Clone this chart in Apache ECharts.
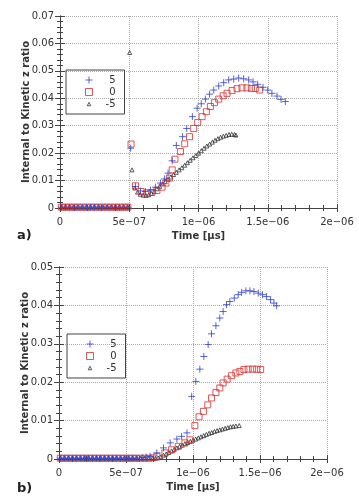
<!DOCTYPE html>
<html>
<head>
<meta charset="utf-8">
<script src="https://cdn.jsdelivr.net/npm/echarts@6/dist/echarts.min.js"></script>
<style>
  html, body { margin: 0; padding: 0; background: #fff; }
  #main { width: 359px; height: 497px; }
</style>
</head>
<body>
<div id="main"></div>
<script>
// time in units of 1e-6 (axis labels show the raw seconds notation)
const seriesNames = ['5', '0', '-5'];
const xTickLabels = ['0', '5e\u221207', '1e\u221206', '1.5e\u221206', '2e\u221206'];
const yTickLabelsA = ['0', '0.01', '0.02', '0.03', '0.04', '0.05', '0.06', '0.07'];
const yTickLabelsB = ['0', '0.01', '0.02', '0.03', '0.04', '0.05'];

// panel a)
const a5 = [
  [0.01, 0.0003], [0.04, 0.0003], [0.07, 0.0003], [0.10, 0.0003], [0.13, 0.0003], [0.16, 0.0003],
  [0.19, 0.0003], [0.22, 0.0003], [0.25, 0.0003], [0.28, 0.0003], [0.31, 0.0003], [0.34, 0.0003],
  [0.37, 0.0003], [0.40, 0.0003], [0.43, 0.0003], [0.46, 0.0003], [0.49, 0.0003],
  [0.51, 0.0218], [0.545, 0.0078], [0.581, 0.0062], [0.617, 0.0060], [0.653, 0.0065], [0.689, 0.0076],
  [0.725, 0.0091], [0.755, 0.0106], [0.78, 0.0127], [0.81, 0.0172], [0.84, 0.0228], [0.885, 0.0260],
  [0.915, 0.0290], [0.956, 0.0333], [0.99, 0.0364], [1.02, 0.0380], [1.05, 0.0397], [1.08, 0.0415],
  [1.11, 0.0430], [1.146, 0.0445], [1.182, 0.0457], [1.218, 0.0467], [1.254, 0.0470], [1.29, 0.0474],
  [1.326, 0.0471], [1.362, 0.0467], [1.394, 0.0460], [1.427, 0.0451], [1.466, 0.0440], [1.50, 0.0430],
  [1.53, 0.0418], [1.567, 0.0408], [1.596, 0.0396], [1.627, 0.0388]
];
const a0 = [
  [0.01, 0.0003], [0.04, 0.0003], [0.07, 0.0003], [0.10, 0.0003], [0.13, 0.0003], [0.16, 0.0003],
  [0.19, 0.0003], [0.22, 0.0003], [0.25, 0.0003], [0.28, 0.0003], [0.31, 0.0003], [0.34, 0.0003],
  [0.37, 0.0003], [0.40, 0.0003], [0.43, 0.0003], [0.46, 0.0003], [0.49, 0.0003],
  [0.513, 0.0233], [0.545, 0.0081], [0.585, 0.0060], [0.628, 0.0055], [0.664, 0.0057], [0.70, 0.0064],
  [0.737, 0.0076], [0.765, 0.0091], [0.79, 0.0109], [0.81, 0.0139], [0.83, 0.0178], [0.87, 0.0206],
  [0.90, 0.0234], [0.935, 0.0260], [0.965, 0.0290], [0.994, 0.0312], [1.026, 0.0333], [1.057, 0.0351],
  [1.086, 0.0370], [1.115, 0.0384], [1.146, 0.0397], [1.178, 0.0409], [1.206, 0.0418], [1.242, 0.0428],
  [1.278, 0.0435], [1.314, 0.0438], [1.35, 0.0438], [1.382, 0.0436], [1.41, 0.0436], [1.442, 0.0430]
];
const aM5 = [
  [0.01, 0.0003], [0.04, 0.0003], [0.07, 0.0003], [0.10, 0.0003], [0.13, 0.0003], [0.16, 0.0003],
  [0.19, 0.0003], [0.22, 0.0003], [0.25, 0.0003], [0.28, 0.0003], [0.31, 0.0003], [0.34, 0.0003],
  [0.37, 0.0003], [0.40, 0.0003], [0.43, 0.0003], [0.46, 0.0003], [0.49, 0.0003],
  [0.503, 0.0567], [0.52, 0.0139], [0.54, 0.0073], [0.56, 0.0058], [0.58, 0.0050], [0.60, 0.0047],
  [0.62, 0.0046], [0.64, 0.0048], [0.66, 0.0053], [0.68, 0.0060], [0.70, 0.0070], [0.72, 0.0079],
  [0.74, 0.0088], [0.76, 0.0096], [0.78, 0.0105], [0.80, 0.0113], [0.82, 0.0122], [0.84, 0.0130],
  [0.86, 0.0139], [0.88, 0.0147], [0.90, 0.0156], [0.92, 0.0165], [0.94, 0.0174], [0.96, 0.0183],
  [0.98, 0.0191], [1.00, 0.0200], [1.02, 0.0209], [1.04, 0.0218], [1.06, 0.0226], [1.08, 0.0233],
  [1.10, 0.0240], [1.12, 0.0247], [1.14, 0.0253], [1.16, 0.0258], [1.18, 0.0262], [1.20, 0.0265],
  [1.22, 0.0268], [1.24, 0.0269], [1.26, 0.0268], [1.27, 0.0266]
];

// panel b)
const b5 = [
  [0.01, 0.0002], [0.04, 0.0002], [0.07, 0.0002], [0.10, 0.0002], [0.13, 0.0002], [0.16, 0.0002],
  [0.19, 0.0002], [0.22, 0.0002], [0.25, 0.0002], [0.28, 0.0002], [0.31, 0.0002], [0.34, 0.0002],
  [0.37, 0.0002], [0.40, 0.0002], [0.43, 0.0002], [0.46, 0.0002], [0.49, 0.0002], [0.52, 0.0002],
  [0.55, 0.0002], [0.58, 0.0002], [0.62, 0.0003], [0.65, 0.0005], [0.68, 0.0007], [0.73, 0.0016],
  [0.78, 0.0029], [0.83, 0.0042], [0.88, 0.0052], [0.915, 0.0059], [0.955, 0.0068], [0.99, 0.0163],
  [1.021, 0.0202], [1.051, 0.0234], [1.081, 0.0267], [1.113, 0.0298], [1.138, 0.0326], [1.171, 0.0347],
  [1.20, 0.0367], [1.225, 0.0384], [1.25, 0.0402], [1.275, 0.0410], [1.308, 0.0419], [1.337, 0.0428],
  [1.363, 0.0434], [1.395, 0.0438], [1.425, 0.0438], [1.455, 0.0436], [1.487, 0.0432], [1.519, 0.0428],
  [1.549, 0.0423], [1.579, 0.0415], [1.604, 0.0406], [1.624, 0.0399]
];
const b0 = [
  [0.01, 0.0002], [0.04, 0.0002], [0.07, 0.0002], [0.10, 0.0002], [0.13, 0.0002], [0.16, 0.0002],
  [0.19, 0.0002], [0.22, 0.0002], [0.25, 0.0002], [0.28, 0.0002], [0.31, 0.0002], [0.34, 0.0002],
  [0.37, 0.0002], [0.40, 0.0002], [0.43, 0.0002], [0.46, 0.0002], [0.49, 0.0002], [0.52, 0.0002],
  [0.55, 0.0002], [0.58, 0.0002], [0.61, 0.0002], [0.64, 0.0002], [0.67, 0.0002], [0.70, 0.0003],
  [0.73, 0.0007], [0.79, 0.0016], [0.84, 0.0024], [0.89, 0.0033], [0.94, 0.0042], [0.977, 0.0050],
  [1.014, 0.0087], [1.045, 0.0110], [1.078, 0.0124], [1.11, 0.0141], [1.138, 0.0159], [1.171, 0.0173],
  [1.20, 0.0185], [1.225, 0.0198], [1.255, 0.0208], [1.288, 0.0217], [1.32, 0.0224], [1.35, 0.0228],
  [1.38, 0.0233], [1.412, 0.0234], [1.445, 0.0234], [1.475, 0.0234], [1.505, 0.0233]
];
const bM5 = [
  [0.01, 0.0002], [0.04, 0.0002], [0.07, 0.0002], [0.10, 0.0002], [0.13, 0.0002], [0.16, 0.0002],
  [0.19, 0.0002], [0.22, 0.0002], [0.25, 0.0002], [0.28, 0.0002], [0.31, 0.0002], [0.34, 0.0002],
  [0.37, 0.0002], [0.40, 0.0002], [0.43, 0.0002], [0.46, 0.0002], [0.49, 0.0002], [0.52, 0.0002],
  [0.55, 0.0002], [0.58, 0.0002], [0.61, 0.0002], [0.64, 0.0002], [0.67, 0.0002], [0.70, 0.0002],
  [0.72, 0.0002], [0.74, 0.0003], [0.76, 0.0006], [0.78, 0.0010], [0.80, 0.0013], [0.82, 0.0017],
  [0.84, 0.0021], [0.86, 0.0025], [0.88, 0.0029], [0.90, 0.0033], [0.92, 0.0036], [0.94, 0.0040],
  [0.96, 0.0043], [0.98, 0.0046], [1.00, 0.0049], [1.02, 0.0052], [1.04, 0.0055], [1.06, 0.0058],
  [1.08, 0.0061], [1.10, 0.0064], [1.12, 0.0067], [1.14, 0.0069], [1.16, 0.0072], [1.18, 0.0074],
  [1.20, 0.0076], [1.22, 0.0078], [1.24, 0.0080], [1.26, 0.0082], [1.28, 0.0084], [1.30, 0.0085],
  [1.32, 0.0086], [1.345, 0.0087]
];

const FONT = 'DejaVu Sans';
const AXIS_COLOR = '#444';
const LABEL_COLOR = '#333';

var myChart = echarts.init(document.getElementById('main'), null, { renderer: 'canvas' });

function xAxisFor(gridIndex, onTop) {
  return {
    type: 'value',
    gridIndex: gridIndex,
    position: onTop ? 'top' : 'bottom',
    min: 0,
    max: 2,
    interval: 0.5,
    name: onTop ? '' : 'Time [\u00b5s]',
    nameLocation: 'middle',
    nameGap: 23,
    nameMoveOverlap: false,
    nameTextStyle: { fontFamily: FONT, fontWeight: 'bold', fontSize: 10, color: LABEL_COLOR },
    axisLine: { show: true, lineStyle: { color: AXIS_COLOR, width: 1 } },
    axisTick: { show: true, inside: false, length: 4, lineStyle: { color: AXIS_COLOR } },
    minorTick: { show: true, splitNumber: 5, length: 3, lineStyle: { color: AXIS_COLOR } },
    axisLabel: {
      show: !onTop,
      margin: 9,
      fontFamily: FONT,
      fontSize: 10,
      color: LABEL_COLOR,
      formatter: function (v) { return xTickLabels[Math.round(v / 0.5)]; }
    },
    splitLine: { show: !onTop, lineStyle: { color: '#aaa', type: 'dotted', width: 1 } },
    minorSplitLine: { show: false }
  };
}

function yAxisFor(gridIndex, onRight, maxVal, labels) {
  return {
    type: 'value',
    gridIndex: gridIndex,
    position: onRight ? 'right' : 'left',
    min: 0,
    max: maxVal,
    interval: 0.01,
    name: onRight ? '' : 'Internal to Kinetic z ratio',
    nameLocation: 'middle',
    nameGap: 29,
    nameMoveOverlap: false,
    nameTextStyle: { fontFamily: FONT, fontWeight: 'bold', fontSize: 10, color: LABEL_COLOR },
    axisLine: { show: true, lineStyle: { color: AXIS_COLOR, width: 1 } },
    axisTick: { show: true, inside: true, length: 5, lineStyle: { color: AXIS_COLOR } },
    minorTick: { show: true, splitNumber: 5, length: 3, lineStyle: { color: AXIS_COLOR } },
    axisLabel: {
      show: !onRight,
      margin: 6,
      fontFamily: FONT,
      fontSize: 10,
      color: LABEL_COLOR,
      formatter: function (v) { return labels[Math.round(v / 0.01)]; }
    },
    splitLine: { show: !onRight, lineStyle: { color: '#aaa', type: 'dotted', width: 1 } }
  };
}

// legend icons: the triangle path is padded so it draws smaller than the box
const legendIcons = ['path://M0,5L10,5M5,0L5,10', 'rect', 'path://M0,0M10,10M2.5,7.5L5,2.5L7.5,7.5Z'];
const legendColors = ['#3040cc', '#d83030', '#333'];

function legendFor(left, top) {
  return {
    orient: 'vertical',
    left: left,
    top: top,
    data: seriesNames.map(function (n, i) {
      return { name: n, icon: legendIcons[i],
        itemStyle: { color: 'none', borderColor: legendColors[i], borderWidth: 1 } };
    }),
    padding: [4, 9, 4, 17],
    itemGap: 0,
    itemWidth: 7,
    itemHeight: 7,
    borderColor: AXIS_COLOR,
    borderWidth: 1,
    selectedMode: false,
    formatter: function (name) { return '{r|' + name + '}'; },
    textStyle: {
      rich: { r: { width: 18, align: 'right', fontFamily: FONT, fontSize: 10, lineHeight: 12, color: LABEL_COLOR } }
    }
  };
}

const plusSymbol = 'path://M0,5L10,5M5,0L5,10';
const styles = [
  { symbol: plusSymbol, symbolSize: 7, itemStyle: { color: 'none', borderColor: '#3040cc', borderWidth: 1 } },
  { symbol: 'rect', symbolSize: 6, itemStyle: { color: 'none', borderColor: '#d83030', borderWidth: 1 } },
  { symbol: 'triangle', symbolSize: 4, itemStyle: { color: 'none', borderColor: '#333', borderWidth: 1 } }
];

function scatter(name, data, axisIndex, style) {
  return {
    name: name,
    type: 'scatter',
    xAxisIndex: axisIndex,
    yAxisIndex: axisIndex,
    data: data,
    symbol: style.symbol,
    symbolSize: style.symbolSize,
    itemStyle: style.itemStyle,
    emphasis: { disabled: true }
  };
}

var option = {
  animation: false,
  textStyle: { fontFamily: FONT },
  grid: [
    { left: 60, top: 16, width: 277, height: 192 },
    { left: 59, top: 267, width: 268, height: 192 }
  ],
  legend: [legendFor(66, 70), legendFor(67, 334)],
  xAxis: [xAxisFor(0, false), xAxisFor(0, true), xAxisFor(1, false), xAxisFor(1, true)],
  yAxis: [
    yAxisFor(0, false, 0.07, yTickLabelsA),
    yAxisFor(0, true, 0.07, yTickLabelsA),
    yAxisFor(1, false, 0.05, yTickLabelsB),
    yAxisFor(1, true, 0.05, yTickLabelsB)
  ],
  series: [
    scatter(seriesNames[2], aM5, 0, styles[2]),
    scatter(seriesNames[1], a0, 0, styles[1]),
    scatter(seriesNames[0], a5, 0, styles[0]),
    scatter(seriesNames[2], bM5, 2, styles[2]),
    scatter(seriesNames[1], b0, 2, styles[1]),
    scatter(seriesNames[0], b5, 2, styles[0])
  ],
  graphic: [
    { type: 'text', left: 17, top: 229, style: { text: 'a)', fontFamily: FONT, fontWeight: 'bold', fontSize: 13, fill: '#222' } },
    { type: 'text', left: 17, top: 482, style: { text: 'b)', fontFamily: FONT, fontWeight: 'bold', fontSize: 13, fill: '#222' } }
  ]
};

myChart.setOption(option);
</script>
</body>
</html>
